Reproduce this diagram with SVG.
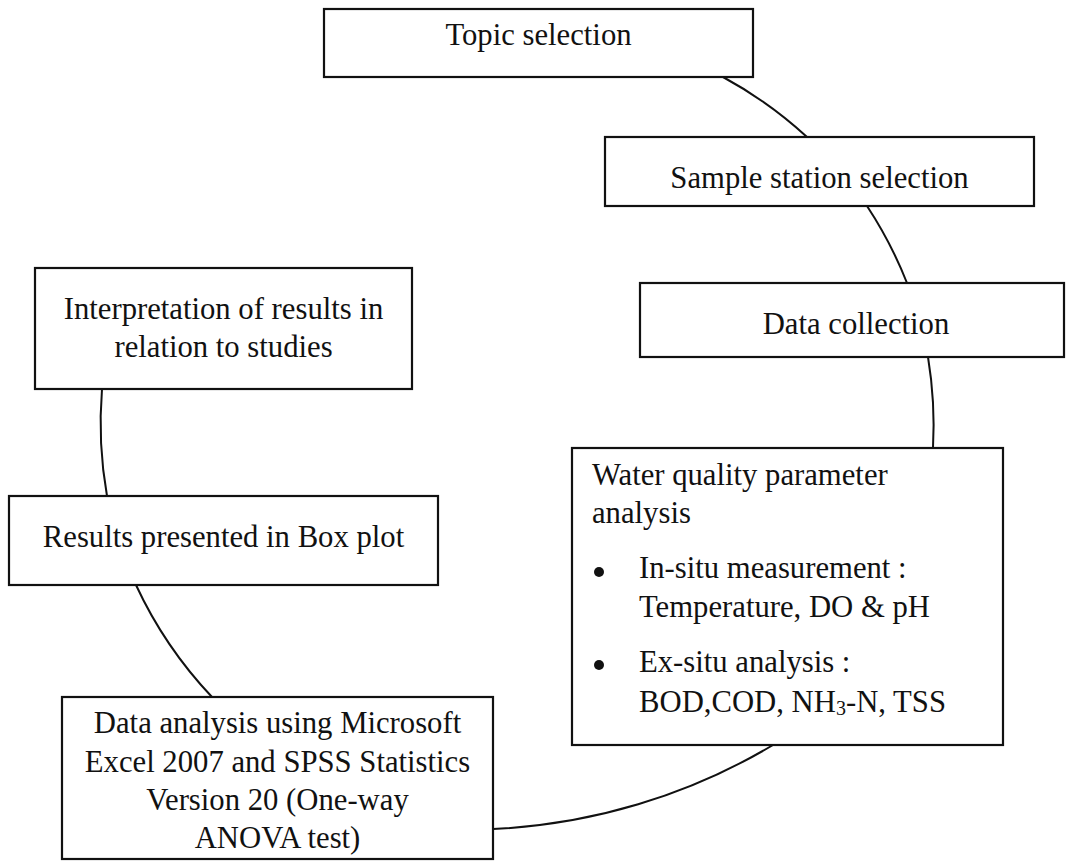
<svg xmlns="http://www.w3.org/2000/svg" width="1066" height="861" viewBox="0 0 1066 861">
<style>
.box{fill:#fff;stroke:#111;stroke-width:2.2}
.con{fill:none;stroke:#111;stroke-width:2}
text{font-family:"Liberation Serif","Times New Roman",serif;font-size:30.7px;fill:#111}
.c{text-anchor:middle}
</style>
<rect width="1066" height="861" fill="#fff"/>
<g id="connectors">
<path class="con" d="M 723 77 A 420 420 0 0 1 807 137"/>
<path class="con" d="M 867 206 A 420 420 0 0 1 907 283"/>
<path class="con" d="M 928 357 A 420 420 0 0 1 933 448"/>
<path class="con" d="M 773 745 A 600 600 0 0 1 493 829"/>
<path class="con" d="M 212 697 A 420 420 0 0 1 136 585"/>
<path class="con" d="M 107 496 A 420 420 0 0 1 102 389"/>
</g>
<g id="topic">
<rect class="box" x="324" y="9" width="429" height="68"/>
<text class="c" x="538.5" y="45">Topic selection</text>
</g>
<g id="sample">
<rect class="box" x="605" y="137" width="429" height="69"/>
<text class="c" x="819.5" y="188">Sample station selection</text>
</g>
<g id="datacollection">
<rect class="box" x="640" y="283" width="424" height="74"/>
<text class="c" x="856" y="334">Data collection</text>
</g>
<g id="water">
<rect class="box" x="572" y="448" width="431" height="297"/>
<text x="592" y="485">Water quality parameter</text>
<text x="592" y="523">analysis</text>
<circle cx="599" cy="572" r="5" fill="#111"/>
<text x="639" y="578">In-situ measurement :</text>
<text x="639" y="617">Temperature, DO &amp; pH</text>
<circle cx="599" cy="665" r="5" fill="#111"/>
<text x="639" y="672">Ex-situ analysis :</text>
<text x="639" y="712">BOD,COD, NH<tspan font-size="20" dy="3">3</tspan><tspan dy="-3">-N, TSS</tspan></text>
</g>
<g id="dataanalysis">
<rect class="box" x="62" y="697" width="431" height="162"/>
<text class="c" x="277.5" y="733">Data analysis using Microsoft</text>
<text class="c" x="277.5" y="772">Excel 2007 and SPSS Statistics</text>
<text class="c" x="277.5" y="810">Version 20 (One-way</text>
<text class="c" x="277.5" y="848">ANOVA test)</text>
</g>
<g id="results">
<rect class="box" x="9" y="496" width="429" height="89"/>
<text class="c" x="223.5" y="547">Results presented in Box plot</text>
</g>
<g id="interpretation">
<rect class="box" x="35" y="268" width="377" height="121"/>
<text class="c" x="223.5" y="319">Interpretation of results in</text>
<text class="c" x="223.5" y="357">relation to studies</text>
</g>
</svg>
